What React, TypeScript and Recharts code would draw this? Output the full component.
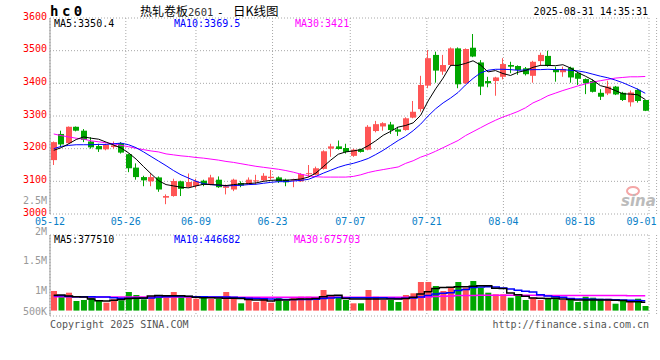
import React from 'react';
import { ComposedChart, Bar, Line, XAxis, YAxis, CartesianGrid, Cell } from 'recharts';

const MONO = '"DejaVu Sans Mono", monospace';
const CJK = '"Noto Sans CJK SC", sans-serif';
const RED = '#FF5555';
const GREEN = '#00A600';

const opens = [3165,3245,3217,3267,3255,3222,3208,3198,3205,3217,3183,3142,3113,3100,3112,3050,3055,3100,3083,3086,3102,3090,3105,3080,3075,3095,3092,3100,3103,3110,3112,3105,3102,3100,3122,3120,3138,3200,3207,3202,3178,3198,3197,3254,3268,3274,3259,3257,3295,3321,3393,3487,3436,3456,3507,3400,3509,3464,3407,3407,3420,3456,3453,3446,3423,3468,3484,3443,3434,3448,3431,3413,3407,3371,3369,3390,3371,3342,3380,3349];
const highs = [3222,3255,3268,3268,3260,3235,3215,3215,3222,3220,3185,3155,3117,3125,3115,3060,3108,3102,3124,3108,3105,3120,3115,3090,3108,3100,3112,3120,3125,3135,3115,3108,3108,3125,3150,3145,3195,3215,3225,3215,3200,3200,3272,3285,3281,3282,3267,3296,3346,3423,3502,3497,3487,3510,3510,3507,3551,3471,3420,3420,3477,3466,3455,3450,3469,3494,3500,3451,3451,3451,3436,3415,3412,3382,3408,3392,3374,3378,3384,3350];
const lows = [3150,3205,3215,3253,3220,3200,3190,3195,3200,3185,3128,3105,3085,3085,3068,3030,3053,3055,3080,3078,3085,3088,3080,3060,3070,3082,3090,3090,3100,3105,3095,3085,3082,3098,3112,3118,3136,3175,3197,3185,3175,3188,3195,3250,3255,3245,3239,3255,3293,3313,3385,3402,3426,3452,3385,3398,3480,3364,3388,3362,3412,3431,3426,3424,3402,3453,3451,3405,3420,3402,3395,3367,3372,3349,3364,3364,3346,3329,3341,3315];
const closes = [3220,3213,3267,3255,3227,3204,3198,3212,3210,3188,3140,3113,3103,3113,3075,3055,3101,3077,3098,3100,3090,3112,3082,3085,3105,3087,3105,3103,3117,3114,3100,3097,3105,3122,3125,3140,3192,3207,3199,3190,3197,3190,3267,3275,3278,3257,3252,3293,3313,3395,3477,3439,3456,3507,3397,3505,3482,3390,3400,3418,3459,3451,3441,3428,3466,3487,3453,3434,3444,3418,3414,3400,3374,3359,3390,3366,3349,3372,3346,3316];

const ma5 = [3195,3203,3215,3228,3236,3232,3229,3220,3211,3202,3187,3168,3145,3123,3102,3090,3086,3082,3080,3086,3091,3090,3089,3087,3090,3092,3093,3095,3100,3103,3104,3103,3105,3107,3113,3125,3145,3165,3183,3190,3193,3197,3209,3224,3241,3253,3266,3271,3279,3302,3346,3383,3416,3455,3455,3461,3469,3456,3435,3439,3430,3424,3434,3439,3449,3455,3455,3454,3457,3447,3433,3422,3410,3393,3387,3378,3368,3367,3365,3350.4];
const ma10 = [3200,3207,3210,3212,3212,3212,3213,3213,3215,3217,3212,3203,3190,3176,3162,3148,3133,3120,3110,3100,3093,3090,3088,3086,3087,3088,3090,3091,3094,3097,3099,3099,3101,3103,3106,3115,3125,3134,3143,3150,3155,3162,3170,3182,3195,3210,3225,3238,3255,3275,3300,3322,3340,3355,3372,3395,3415,3432,3440,3443,3443,3442,3440,3441,3442,3442,3443,3442,3442,3440,3438,3434,3428,3422,3417,3410,3402,3392,3382,3369.5];
const ma30 = [3245,3240,3236,3232,3229,3224,3221,3218,3215,3210,3206,3201,3197,3193,3190,3184,3181,3178,3176,3173,3171,3168,3165,3161,3158,3154,3150,3146,3143,3140,3137,3133,3128,3122,3117,3114,3113,3113,3113,3113,3115,3120,3127,3132,3136,3140,3144,3155,3163,3174,3182,3192,3203,3214,3225,3240,3252,3264,3276,3287,3297,3305,3314,3325,3340,3350,3362,3370,3378,3385,3392,3398,3404,3408,3412,3416,3418,3420,3420,3421];

const volumes = [887000,661000,810000,434000,480000,615000,434000,357000,511000,466000,842000,706000,511000,615000,615000,584000,842000,661000,661000,538000,615000,538000,538000,842000,615000,330000,538000,389000,584000,357000,584000,434000,584000,629000,629000,584000,932000,706000,629000,480000,330000,330000,932000,629000,480000,480000,389000,706000,783000,1294000,1294000,1113000,887000,1036000,1294000,1036000,1339000,1036000,810000,738000,738000,584000,692000,480000,584000,480000,538000,584000,480000,538000,389000,629000,584000,538000,538000,312000,434000,480000,538000,208000];
const volMa5 = [700000,710000,660000,630000,620000,530000,450000,430000,470000,500000,550000,560000,570000,660000,680000,670000,670000,670000,650000,600000,580000,580000,570000,560000,560000,550000,500000,480000,480000,440000,480000,480000,500000,520000,530000,550000,630000,680000,700000,550000,530000,520000,530000,520000,530000,520000,530000,550000,600000,750000,850000,1000000,1050000,1060000,1080000,1080000,1100000,1130000,1120000,1010000,1000000,800000,720000,650000,570000,560000,550000,560000,520000,500000,480000,480000,480000,480000,480000,470000,460000,400000,400000,377510];
const volMa10 = [670000,670000,640000,630000,630000,630000,620000,610000,580000,560000,560000,560000,560000,570000,610000,630000,640000,640000,640000,630000,630000,620000,620000,610000,600000,580000,560000,550000,540000,520000,510000,500000,500000,500000,500000,510000,550000,570000,590000,570000,580000,580000,580000,580000,580000,560000,550000,560000,570000,620000,680000,750000,780000,810000,910000,960000,1050000,1070000,1080000,1070000,1020000,980000,920000,880000,840000,720000,660000,630000,600000,550000,530000,520000,510000,500000,500000,490000,480000,470000,460000,446682];
const volMa30 = [625000,624000,623000,622000,622000,621000,620000,620000,619000,618000,618000,617000,617000,616000,616000,615000,615000,614000,614000,613000,612000,612000,611000,610000,609000,608000,607000,606000,605000,604000,603000,602000,601000,600000,600000,600000,601000,601000,601000,600000,600000,600000,600000,600000,600000,600000,600000,600000,602000,605000,615000,635000,650000,665000,678000,685000,688000,690000,690000,690000,690000,690000,690000,689000,689000,688000,688000,687000,686000,685000,684000,683000,682000,681000,680000,679000,678000,677000,676000,675703];

const dateTickLabels = ['05-12','05-26','06-09','06-23','07-07','07-21','08-04','08-18','09-01'];
const dateTickPos = [0, 10, 19.25, 29.35, 39.6, 49.7, 59.8, 69.9, 80];
const priceTicks = [3000, 3100, 3200, 3300, 3400, 3500, 3600];
const volAxisLabels = ['2.5M', '2M', '1.5M', '1M', '500K'];
const volGridTicks = [0, 1, 2, 3, 4];

const data = closes.map((c, i) => ({
  i,
  open: opens[i],
  high: highs[i],
  low: lows[i],
  close: c,
  range: [lows[i], highs[i]],
  ma5: ma5[i],
  ma10: ma10[i],
  ma30: ma30[i],
  vol: volumes[i],
  vma5: volMa5[i],
  vma10: volMa10[i],
  vma30: volMa30[i],
}));

const Candle = (props: any) => {
  const { x, y, width, height, payload } = props;
  if (x == null || payload == null) return null;
  const up = payload.close >= payload.open;
  const color = up ? RED : GREEN;
  const top = Math.min(y, y + height);
  const h = Math.abs(height);
  const span = payload.high - payload.low;
  const ratio = span > 0 ? h / span : 0;
  const rx = Math.round(x);
  const w = Math.round(width);
  const cx = rx + Math.floor(w / 2) - 0.5;
  const bodyTop = top + (payload.high - Math.max(payload.open, payload.close)) * ratio;
  const bodyH = Math.max(1, Math.abs(payload.open - payload.close) * ratio);
  return (
    <g>
      <line x1={cx} x2={cx} y1={top} y2={top + h} stroke={color} strokeWidth={1} />
      <rect x={rx} y={bodyTop} width={w} height={bodyH} fill={color} />
    </g>
  );
};

const PriceTick = (props: any) => {
  const { x, y, payload } = props;
  return (
    <text x={x} y={y + 1.5} textAnchor="end" fill="#FF0000" fontSize={10} fontFamily={MONO}>
      {payload.value}
    </text>
  );
};

const DateTick = (props: any) => {
  const { x, y, payload } = props;
  const idx = dateTickPos.indexOf(payload.value);
  const last = idx === dateTickPos.length - 1;
  return (
    <text x={x} y={y + 10.5} textAnchor={last ? 'end' : 'middle'} fill="#0A7FC8" fontSize={10} fontFamily={MONO}>
      {dateTickLabels[idx]}
    </text>
  );
};

const GRID = '#A8A8A8';
const BORDER = '#999999';

export default function App() {
  const volLabelY = [200, 231.5, 260.5, 290.5, 311];
  return (
    <div style={{ position: 'absolute', left: 0, top: 0, width: 660, height: 360, background: '#fff', overflow: 'hidden' }}>
      <div style={{ position: 'absolute', left: 0, top: 0 }}>
        <ComposedChart width={660} height={235} data={data} margin={{ top: 18, right: 11, bottom: 0, left: 0 }}>
          <CartesianGrid xAxisId="d" yAxisId="p" stroke={GRID} strokeDasharray="1 2" />
          <XAxis
            xAxisId="d"
            type="number"
            domain={[0, 80]}
            ticks={dateTickPos}
            interval={0}
            height={21}
            axisLine={false}
            tickLine={false}
            tickSize={0}
            tickMargin={0}
            tick={<DateTick />}
            allowDataOverflow
          />
          <XAxis xAxisId="c" dataKey="i" type="category" hide height={0} />
          <YAxis
            yAxisId="p"
            domain={[3000, 3600]}
            ticks={priceTicks}
            interval={0}
            width={50}
            allowDataOverflow
            tickLine={false}
            tickSize={0}
            tickMargin={3}
            axisLine={{ stroke: BORDER }}
            tick={<PriceTick />}
          />
          <YAxis yAxisId="r" orientation="right" width={0} domain={[3000, 3600]} tick={false} tickLine={false} axisLine={{ stroke: BORDER, strokeWidth: 2 }} />
          <Bar xAxisId="c" yAxisId="p" dataKey="range" barSize={6} shape={<Candle />} isAnimationActive={false} />
          <Line xAxisId="c" yAxisId="p" dataKey="ma30" stroke="#FF00FF" strokeWidth={1} dot={false} activeDot={false} isAnimationActive={false} />
          <Line xAxisId="c" yAxisId="p" dataKey="ma10" stroke="#0000FF" strokeWidth={1} dot={false} activeDot={false} isAnimationActive={false} />
          <Line xAxisId="c" yAxisId="p" dataKey="ma5" stroke="#000000" strokeWidth={1} dot={false} activeDot={false} isAnimationActive={false} />
        </ComposedChart>
      </div>
      <div style={{ position: 'absolute', left: 0, top: 0 }}>
        <ComposedChart width={660} height={360} data={data} margin={{ top: 235, right: 11, bottom: 44, left: 0 }}>
          <CartesianGrid xAxisId="d" yAxisId="g" stroke={GRID} strokeDasharray="1 2" />
          <XAxis xAxisId="d" type="number" domain={[0, 80]} ticks={dateTickPos} interval={0} hide height={0} allowDataOverflow />
          <XAxis xAxisId="c" dataKey="i" type="category" hide height={0} />
          <YAxis yAxisId="g" domain={[0, 4]} ticks={volGridTicks} width={50} tick={false} tickLine={false} axisLine={{ stroke: BORDER }} />
          <YAxis yAxisId="v" domain={[-244000, 3420000]} hide allowDataOverflow />
          <YAxis yAxisId="r" orientation="right" width={0} domain={[0, 4]} tick={false} tickLine={false} axisLine={{ stroke: BORDER, strokeWidth: 2 }} />
          <Bar xAxisId="c" yAxisId="v" dataKey="vol" barSize={6} isAnimationActive={false}>
            {data.map((d, k) => (
              <Cell key={k} fill={d.close >= d.open ? RED : GREEN} />
            ))}
          </Bar>
          <Line xAxisId="c" yAxisId="v" type="step" dataKey="vma30" stroke="#FF00FF" strokeWidth={1.5} dot={false} activeDot={false} isAnimationActive={false} />
          <Line xAxisId="c" yAxisId="v" type="step" dataKey="vma10" stroke="#0000FF" strokeWidth={1.5} dot={false} activeDot={false} isAnimationActive={false} />
          <Line xAxisId="c" yAxisId="v" type="step" dataKey="vma5" stroke="#000000" strokeWidth={1.5} dot={false} activeDot={false} isAnimationActive={false} />
        </ComposedChart>
      </div>
      <svg width={660} height={360} style={{ position: 'absolute', left: 0, top: 0, pointerEvents: 'none' }}>
        <text x={50} y={16} fontFamily={MONO} fontWeight="bold" fontSize={14} letterSpacing={3.5} fill="#000">hc0</text>
        <text x={140} y={15.5} fontFamily={CJK} fontSize={12} fill="#000">热轧卷板</text>
        <text x={188} y={15.5} fontFamily={MONO} fontSize={10.5} fill="#333">2601</text>
        <text x={217} y={15.5} fontFamily={MONO} fontSize={11} fill="#000">-</text>
        <text x={233} y={15.5} fontFamily={CJK} fontSize={12.5} fill="#000">日K线图</text>
        <text x={648} y={15} textAnchor="end" fontFamily={MONO} fontSize={10} fill="#000">2025-08-31 14:35:31</text>

        <text x={54} y={27} fontFamily={MONO} fontSize={10} fill="#000">{`MA5:${ma5[ma5.length - 1]}`}</text>
        <text x={174} y={27} fontFamily={MONO} fontSize={10} fill="#0000FF">{`MA10:${ma10[ma10.length - 1]}`}</text>
        <text x={295} y={27} fontFamily={MONO} fontSize={10} fill="#FF00FF">{`MA30:${ma30[ma30.length - 1]}`}</text>

        <text x={54} y={242.5} fontFamily={MONO} fontSize={10} fill="#000">{`MA5:${volMa5[volMa5.length - 1]}`}</text>
        <text x={174} y={242.5} fontFamily={MONO} fontSize={10} fill="#0000FF">{`MA10:${volMa10[volMa10.length - 1]}`}</text>
        <text x={294} y={242.5} fontFamily={MONO} fontSize={10} fill="#FF00FF">{`MA30:${volMa30[volMa30.length - 1]}`}</text>

        {volAxisLabels.map((t, k) => (
          <text key={t} x={47} y={volLabelY[k] + 3.6} textAnchor="end" fontFamily={MONO} fontSize={10} fill="#999">{t}</text>
        ))}

        <text x={50} y={327.5} fontFamily={MONO} fontSize={10} fill="#555">Copyright 2025 SINA.COM</text>
        <text x={649} y={327.5} textAnchor="end" fontFamily={MONO} fontSize={10} fill="#555">http://finance.sina.com.cn</text>

        <ellipse cx={633} cy={191} rx={6} ry={4} fill="none" stroke="#F4A6A6" strokeWidth={2} />
        <text x={621} y={206} fontFamily='"DejaVu Sans", sans-serif' fontStyle="italic" fontWeight="bold" fontSize={15} fill="#BBBBBB">sina</text>
      </svg>
    </div>
  );
}
